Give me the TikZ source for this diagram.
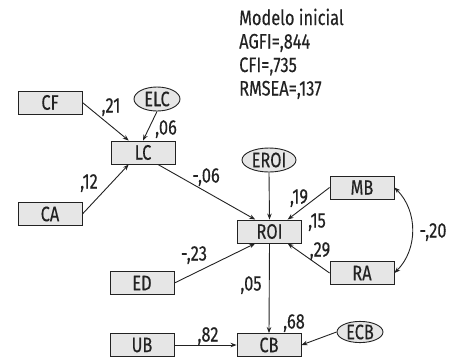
\documentclass[tikz,border=0pt]{standalone}
\usepackage{fontspec}
\setmainfont[FakeStretch=0.78,FakeBold=0.3]{Fira Sans}
\usetikzlibrary{arrows.meta,shapes.geometric,calc}
\definecolor{boxfill}{HTML}{E6E6E6}
\definecolor{ink}{HTML}{222222}
\begin{document}
\begin{tikzpicture}[x=1pt,y=-1pt,
  every node/.style={font=\fontsize{21}{25}\selectfont, text=ink},
  var/.style={draw=ink, fill=boxfill, line width=0.9pt, minimum width=64pt, minimum height=23pt, inner sep=0pt},
  err/.style={draw=ink, fill=boxfill, ellipse, line width=0.9pt, inner sep=0pt, minimum height=24pt},
  coef/.style={anchor=base, inner sep=0pt},
  info/.style={anchor=base west, inner sep=0pt},
  path/.style={draw=ink, line width=0.9pt, -{Stealth[length=6pt,width=4.5pt]}}
]
\useasboundingbox (0,0) rectangle (450,360);
% info text
\node[info] (t1) at (239,25) {Modelo inicial};
\node[info] (t2) at (239,48.5) {AGFI=,844};
\node[info] (t3) at (239,72) {CFI=,735};
\node[info] (t4) at (239,95.5) {RMSEA=,137};
% variables
\node[var] (CF) at (50,102.5) {CF};
\node[var] (LC) at (143,152.5) {LC};
\node[var] (CA) at (50,214) {CA};
\node[var] (ROI) at (269.5,231.5) {ROI};
\node[var] (MB) at (362,187.5) {MB};
\node[var] (RA) at (362,273) {RA};
\node[var] (ED) at (142,283) {ED};
\node[var] (UB) at (142,345) {UB};
\node[var] (CB) at (269,345) {CB};
% errors
\node[err, minimum width=46pt] (ELC) at (157,99) {ELC};
\node[err, minimum width=54pt] (EROI) at (269,160) {EROI};
\node[err, minimum width=46pt, minimum height=21pt] (ECB) at (360,332) {ECB};
% paths
\draw[path] (CF.east) -- ($(LC.north west)!0.28!(LC.north east)$);
\draw[path] (ELC.south) -- (LC.north);
\draw[path] (CA.east) -- ($(LC.south west)!0.28!(LC.south east)$);
\draw[path] ($(LC.south west)!0.73!(LC.south east)$) -- ($(ROI.north west)!0.28!(ROI.north east)$);
\draw[path] (EROI.south) -- (ROI.north);
\draw[path] (MB.west) -- ($(ROI.north west)!0.78!(ROI.north east)$);
\draw[path] (RA.west) -- ($(ROI.south west)!0.78!(ROI.south east)$);
\draw[path] (ED.east) -- ($(ROI.south west)!0.28!(ROI.south east)$);
\draw[path] (ROI.south) -- (CB.north);
\draw[path] (UB.east) -- (CB.west);
\draw[path] (ECB.west) -- (CB.east);
\draw[draw=ink, line width=0.9pt, {Stealth[length=6pt,width=4.5pt]}-{Stealth[length=6pt,width=4.5pt]}] (MB.east) to[bend left=45] (RA.east);
% coefficients
\node[coef] (c1) at (111,112.5) {,21};
\node[coef] (c2) at (166,134.5) {,06};
\node[coef] (c3) at (89,188.5) {,12};
\node[coef] (c4) at (206,182.5) {-,06};
\node[coef] (c5) at (299,203.5) {,19};
\node[coef] (c6) at (317,227.5) {,15};
\node[coef] (c7) at (320,256.5) {,29};
\node[coef] (c8) at (433,237.5) {-,20};
\node[coef] (c9) at (194,260.5) {-,23};
\node[coef] (c10) at (251,290.5) {,05};
\node[coef] (c11) at (208,341.5) {,82};
\node[coef] (c12) at (294,328.5) {,68};
\end{tikzpicture}
\end{document}
